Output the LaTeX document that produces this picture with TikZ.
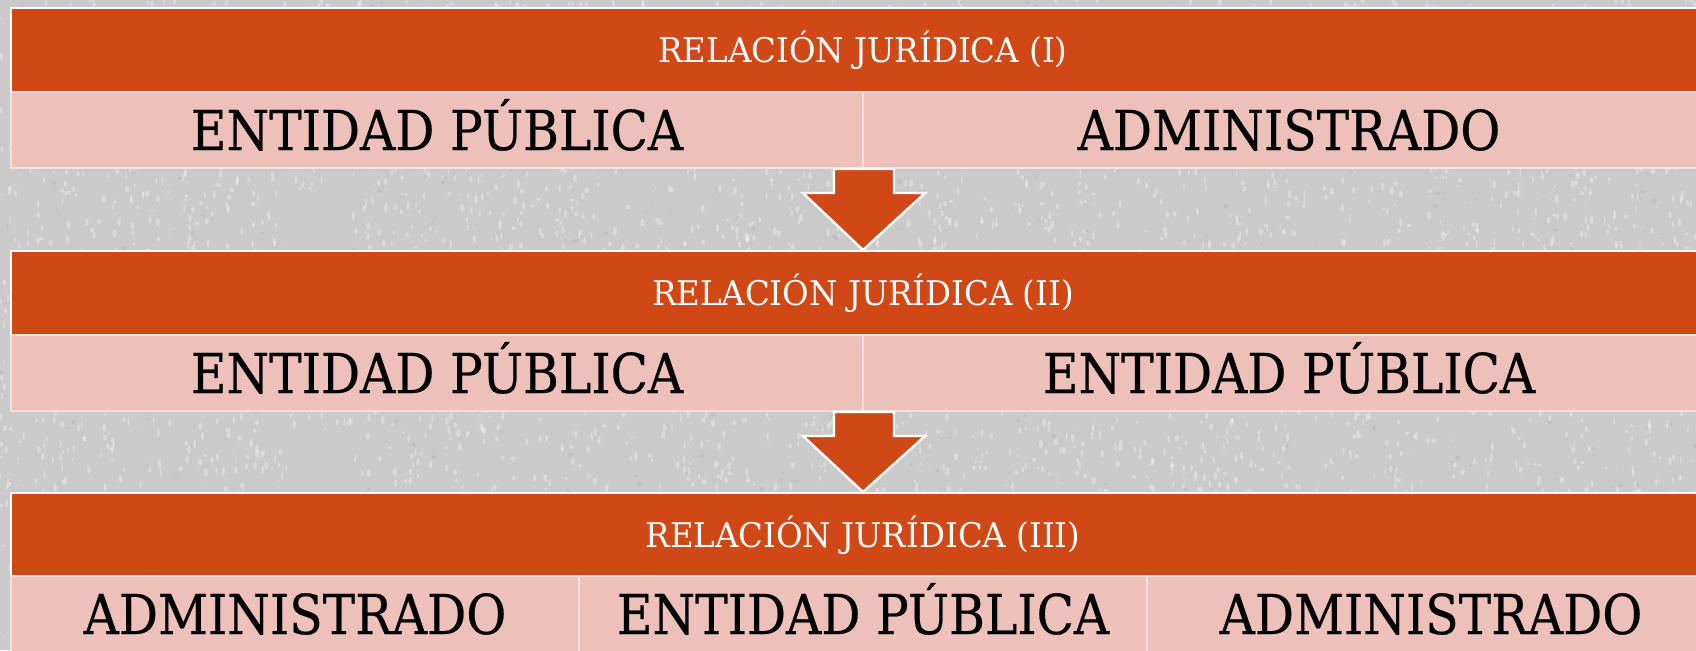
\documentclass[tikz,border=0pt]{standalone}
\usepackage{fontspec}
\setmainfont{DejaVu Serif}
\newfontfamily\cellfamily[FakeBold=0.5]{DejaVu Serif}
\usepackage{graphicx}
\usetikzlibrary{calc}

\definecolor{bandorange}{RGB}{209,72,23}
\definecolor{cellpink}{RGB}{237,192,185}
\definecolor{backgrey}{RGB}{202,202,202}

\newcommand{\celltext}[1]{\scalebox{0.887}[1]{#1}}
\newcommand{\titletext}[1]{\scalebox{0.954}[1]{#1}}

\tikzset{
  titleband/.style={fill=bandorange, draw=white, line width=1pt, text=white,
    minimum height=42pt, inner sep=0pt, text height=12.4pt, text depth=0pt,
    font=\fontsize{17}{17}\selectfont},
  cellbox/.style={fill=cellpink, draw=white!50!cellpink, line width=1pt,
    minimum height=38pt, inner sep=0pt, text height=20pt, text depth=0pt,
    font=\cellfamily\fontsize{27.5}{28}\selectfont},
  downarrow/.style={fill=bandorange, draw=white, line width=1.2pt}
}

\begin{document}
\begin{tikzpicture}[x=0.5pt, y=-0.5pt]
  \useasboundingbox (0,0) rectangle (1696,650);
  \clip (0,0) rectangle (1696,650);
  \fill[backgrey] (0,0) rectangle (1696,650);
  % grainy background
  \pgfmathsetseed{7}
  \foreach \i in {1,...,5000}
    \fill[white, opacity=0.3] ({rnd*1696},{rnd*650}) ellipse ({0.8+rnd*1.4} and {1.5+rnd*3});
  \foreach \i in {1,...,600}
    \fill[black, opacity=0.05] ({rnd*1696},{rnd*650}) circle ({0.8+rnd*1.5});
  \fill[backgrey] (287,190) rectangle (352,251);
  \fill[backgrey] (287,433) rectangle (352,495);

  % relacion I
  \node[titleband, minimum width=852pt] (t1) at (863,50) {\titletext{RELACIÓN JURÍDICA (I)}};
  \node[cellbox, minimum width=426pt] (c1a) at (437,130) {\celltext{ENTIDAD PÚBLICA}};
  \node[cellbox, minimum width=426pt] (c1b) at (1289,130) {\celltext{ADMINISTRADO}};

  % relacion II
  \node[titleband, minimum width=852pt] (t2) at (863,293) {\titletext{RELACIÓN JURÍDICA (II)}};
  \node[cellbox, minimum width=426pt] (c2a) at (437,373) {\celltext{ENTIDAD PÚBLICA}};
  \node[cellbox, minimum width=426pt] (c2b) at (1289,373) {\celltext{ENTIDAD PÚBLICA}};

  % relacion III
  \node[titleband, minimum width=852pt] (t3) at (863,535) {\titletext{RELACIÓN JURÍDICA (III)}};
  \node[cellbox, minimum width=284pt] (c3a) at (295,614) {\celltext{ADMINISTRADO}};
  \node[cellbox, minimum width=284pt] (c3b) at (863,614) {\celltext{ENTIDAD PÚBLICA}};
  \node[cellbox, minimum width=284pt] (c3c) at (1431,614) {\celltext{ADMINISTRADO}};

  % arrows
  \draw[downarrow] ($(c1a.south east)+(-30,0)$) -- ++(60,0) -- ++(0,24) -- ++(31,0)
    -- (t2.north) -- ($(c1a.south east)+(-61,24)$) -- ++(31,0) -- cycle;
  \draw[downarrow] ($(c2a.south east)+(-30,0)$) -- ++(60,0) -- ++(0,24) -- ++(31,0)
    -- (t3.north) -- ($(c2a.south east)+(-61,24)$) -- ++(31,0) -- cycle;
\end{tikzpicture}
\end{document}
